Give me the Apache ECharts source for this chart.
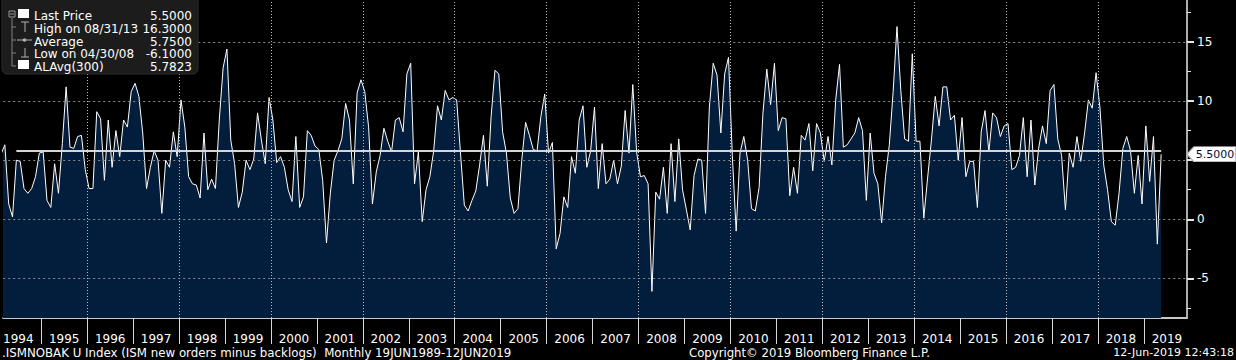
<!DOCTYPE html>
<html><head><meta charset="utf-8">
<script src="https://cdn.jsdelivr.net/npm/echarts@6/dist/echarts.min.js"></script>
<style>html,body{margin:0;padding:0;background:#000;}#c{width:1236px;height:360px;}</style>
</head><body><div id="c"></div>
<script>
// ---- data (monthly, first value = Feb 1994, last = May 2019) ----
const FIRST_YEAR = 1994;
const FIRST_MONTH = 2; // February
const v1994 = [5.5, 6.3, 1.3, 0.2, 5.0, 4.9, 2.6, 2.2, 2.6, 3.6, 5.6];
const v1995 = [5.7, 1.6, 1.0, 4.7, 2.2, 6.4, 11.2, 6.1, 6.0, 7.0, 7.1, 4.2];
const v1996 = [2.6, 2.6, 9.1, 8.5, 3.3, 8.4, 4.4, 7.5, 5.3, 8.4, 7.8, 10.8];
const v1997 = [11.5, 10.4, 7.3, 2.6, 4.4, 5.8, 5.0, 0.5, 5.0, 4.4, 7.4, 5.3];
const v1998 = [10.1, 7.8, 3.6, 3.0, 2.9, 1.8, 7.3, 2.5, 3.4, 2.6, 8.4, 12.8];
const v1999 = [14.4, 6.7, 4.7, 1.0, 2.3, 5.0, 4.2, 5.1, 9.0, 6.7, 4.7, 10.3];
const v2000 = [8.4, 4.8, 5.3, 4.4, 2.5, 1.5, 7.0, 1.0, 1.9, 7.5, 7.1, 6.2];
const v2001 = [5.9, 3.3, -2.0, 2.2, 5.0, 5.8, 6.8, 9.8, 8.4, 3.0, 10.7, 11.8];
const v2002 = [10.8, 7.8, 1.3, 4.0, 5.4, 7.7, 6.6, 5.7, 8.4, 8.6, 7.4, 12.3];
const v2003 = [13.2, 3.0, 5.7, -0.2, 2.5, 3.6, 5.8, 9.6, 8.4, 10.9, 10.1, 10.3];
const v2004 = [10.1, 5.6, 1.2, 0.7, 1.6, 2.4, 4.6, 7.1, 2.8, 8.7, 12.6, 12.3];
const v2005 = [7.4, 5.6, 1.8, 0.5, 0.9, 5.0, 8.2, 7.1, 5.9, 5.8, 8.7, 10.6];
const v2006 = [5.6, 6.5, -2.5, -1.2, 1.9, 1.0, 5.3, 3.9, 8.4, 9.6, 4.4, 5.8];
const v2007 = [9.5, 2.6, 6.4, 3.0, 3.4, 5.0, 3.0, 4.5, 9.2, 5.6, 11.4, 5.7];
const v2008 = [3.6, 3.7, 3.0, -6.1, 2.3, 1.7, 4.4, 0.5, 6.4, 1.5, 6.8, 2.5];
const v2009 = [0.8, -0.9, 3.7, 5.1, 5.0, 0.5, 9.5, 13.2, 12.2, 7.3, 12.3, 13.7];
const v2010 = [5.4, -1.0, 5.6, 7.0, 5.0, 0.9, 0.7, 2.7, 9.0, 12.7, 9.7, 13.2];
const v2011 = [7.5, 8.6, 8.5, 2.0, 4.4, 2.2, 7.1, 6.7, 8.1, 4.1, 8.1, 7.3];
const v2012 = [4.9, 7.0, 4.6, 10.1, 13.1, 6.1, 6.3, 6.8, 7.3, 8.6, 7.5, 1.6];
const v2013 = [7.3, 3.9, 3.0, -0.3, 3.6, 6.3, 10.8, 16.3, 10.9, 6.8, 6.6, 14.0];
const v2014 = [6.6, 6.6, 0.1, 3.5, 6.7, 10.4, 7.9, 11.2, 11.2, 8.4, 8.8, 5.0];
const v2015 = [8.6, 3.6, 4.9, 4.9, 1.0, 7.4, 9.2, 5.7, 9.0, 8.6, 7.0, 7.9];
const v2016 = [8.1, 4.2, 4.4, 5.4, 8.6, 3.6, 8.4, 2.9, 6.0, 7.9, 6.4, 10.9];
const v2017 = [11.4, 6.8, 5.4, 0.8, 5.6, 4.4, 7.0, 4.9, 7.3, 10.1, 9.4, 12.4];
const v2018 = [9.5, 4.6, 2.5, -0.2, -0.5, 2.2, 6.0, 7.0, 5.8, 2.2, 5.4, 1.3];
const v2019 = [7.9, 3.2, 7.0, -2.1, 5.5];

const yearTicks = [1995,1996,1997,1998,1999,2000,2001,2002,2003,2004,2005,2006,2007,2008,2009,2010,2011,2012,2013,2014,2015,2016,2017,2018,2019];
const yearLabels = [1994,1995,1996,1997,1998,1999,2000,2001,2002,2003,2004,2005,2006,2007,2008,2009,2010,2011,2012,2013,2014,2015,2016,2017,2018,2019];
const yearGrid = [1996,1998,2000,2002,2004,2006,2008,2010,2012,2014,2016,2018];
const yMajor = [-5, 0, 5, 10, 15];
const yLabelValues = [-5, 0, 10, 15]; // "5" sits under the last-price tag
const yMinor = [-7.5, -2.5, 2.5, 7.5, 12.5, 17.5];

const LAST_PRICE = 5.5, HIGH = 16.3, AVERAGE = 5.75, LOW = -6.1, ALAVG = 5.7823, ALAVG_N = 300;
const legendRows = [
  ['Last Price', '5.5000'],
  ['High on 08/31/13', '16.3000'],
  ['Average', '5.7500'],
  ['Low on 04/30/08', '-6.1000'],
  ['ALAvg(300)', '5.7823']
];
const footerLeft = '.ISMNOBAK U Index (ISM new orders minus backlogs)  Monthly 19JUN1989-12JUN2019';
const footerMid = 'Copyright\u00a9 2019 Bloomberg Finance L.P.';
const footerRight = '12-Jun-2019 12:43:18';

// ---- build ----
const values = [].concat(v1994,v1995,v1996,v1997,v1998,v1999,v2000,v2001,v2002,v2003,v2004,v2005,v2006,v2007,v2008,v2009,v2010,v2011,v2012,v2013,v2014,v2015,v2016,v2017,v2018,v2019);
const points = values.map((v, i) => [FIRST_YEAR + (FIRST_MONTH - 1 + i + 0.5) / 12, v]);
const lastPt = points[points.length - 1];
const avgStart = points[points.length - ALAVG_N];

const FONT = 'DejaVu Sans';
const X_MIN = 1994.1723, X_MAX = 2019.9375;
const Y_MIN = -8.35, Y_MAX = 18.55;

const chart = echarts.init(document.getElementById('c'), null, {renderer: 'svg'});

function txt(x, y, s, align, size, color) {
  return {type: 'text', z: 110, style: {x: x, y: y, text: s, fill: color || '#ffffff',
    font: size + 'px "' + FONT + '"', align: align, verticalAlign: 'middle',
    textAlign: align, textVerticalAlign: 'middle'}};
}

const legendGraphic = {
  type: 'group', z: 100,
  children: [
    {type: 'rect', z: 100, shape: {x: 2, y: -6, width: 196, height: 80, r: 5}, style: {fill: '#1c1c1c', stroke: '#2c2c2c'}},
    {type: 'rect', z: 105, shape: {x: 9, y: 11, width: 6, height: 6}, style: {fill: 'none', stroke: '#9a9a9a', lineWidth: 1}},
    {type: 'line', z: 105, shape: {x1: 10, y1: 14, x2: 14, y2: 14}, style: {stroke: '#9a9a9a', lineWidth: 1}},
    {type: 'line', z: 105, shape: {x1: 12, y1: 18, x2: 12, y2: 66}, style: {stroke: '#808080', lineWidth: 1}},
    {type: 'line', z: 105, shape: {x1: 12, y1: 27, x2: 16, y2: 27}, style: {stroke: '#808080', lineWidth: 1}},
    {type: 'line', z: 105, shape: {x1: 12, y1: 40, x2: 16, y2: 40}, style: {stroke: '#808080', lineWidth: 1}},
    {type: 'line', z: 105, shape: {x1: 12, y1: 53, x2: 16, y2: 53}, style: {stroke: '#808080', lineWidth: 1}},
    {type: 'line', z: 105, shape: {x1: 12, y1: 66, x2: 16, y2: 66}, style: {stroke: '#808080', lineWidth: 1}},
    {type: 'rect', z: 105, shape: {x: 18, y: 9, width: 11, height: 9}, style: {fill: '#ffffff'}},
    {type: 'rect', z: 105, shape: {x: 18, y: 60, width: 11, height: 9}, style: {fill: '#ffffff'}},
    {type: 'line', z: 105, shape: {x1: 21, y1: 22, x2: 29, y2: 22}, style: {stroke: '#b0b0b0', lineWidth: 1}},
    {type: 'line', z: 105, shape: {x1: 25, y1: 22, x2: 25, y2: 32}, style: {stroke: '#b0b0b0', lineWidth: 1}},
    {type: 'line', z: 105, shape: {x1: 17, y1: 40, x2: 32, y2: 40}, style: {stroke: '#b0b0b0', lineWidth: 1}},
    {type: 'circle', z: 105, shape: {cx: 24.5, cy: 40, r: 1.8}, style: {fill: '#b0b0b0'}},
    {type: 'line', z: 105, shape: {x1: 25, y1: 48, x2: 25, y2: 57}, style: {stroke: '#b0b0b0', lineWidth: 1}},
    {type: 'line', z: 105, shape: {x1: 21, y1: 57, x2: 29, y2: 57}, style: {stroke: '#b0b0b0', lineWidth: 1}}
  ].concat(legendRows.flatMap((r, i) => [
    txt(34, 16 + i * 12.8, r[0], 'left', 12),
    txt(192, 16 + i * 12.8, r[1], 'right', 12)
  ]))
};

const footer = [
  {type: 'text', left: 2, top: 347, style: {text: footerLeft, fill: '#ffffff', font: '11.8px "' + FONT + '"'}, z: 100},
  {type: 'text', left: 689, top: 347, style: {text: footerMid, fill: '#ffffff', font: '11.7px "' + FONT + '"'}, z: 100},
  {type: 'text', right: 2, top: 347, style: {text: footerRight, fill: '#ffffff', font: '11px "' + FONT + '"'}, z: 100}
];

const noSym = ['none', 'none'];
chart.setOption({
  backgroundColor: '#000000',
  animation: false,
  grid: {left: 0, right: 49, top: 0, bottom: 42, containLabel: false},
  xAxis: [{
    type: 'value', min: X_MIN, max: X_MAX,
    axisLine: {show: true, onZero: false, lineStyle: {color: '#c8c8c8', width: 2}},
    axisTick: {show: true, customValues: yearTicks, length: 26, lineStyle: {color: '#d8d8d8', width: 1}},
    axisLabel: {show: true, customValues: yearLabels.map(y => y + 0.5), formatter: v => String(Math.floor(v)),
      color: '#ffffff', fontSize: 12, fontFamily: FONT, margin: 15},
    splitLine: {show: false}
  }],
  yAxis: [{
    type: 'value', position: 'right', min: Y_MIN, max: Y_MAX,
    axisLine: {show: true, lineStyle: {color: '#e6e6e6', width: 1.5}},
    axisTick: {show: true, customValues: yMinor, length: 4, lineStyle: {color: '#e6e6e6', width: 1}},
    axisLabel: {show: false}, splitLine: {show: false}
  }, {
    type: 'value', position: 'right', min: Y_MIN, max: Y_MAX,
    axisLine: {show: false},
    axisTick: {show: true, customValues: yMajor, length: 7, lineStyle: {color: '#e6e6e6', width: 2}},
    axisLabel: {show: true, customValues: yLabelValues, color: '#ffffff', fontSize: 12, fontFamily: FONT, margin: 10},
    splitLine: {show: false}
  }],
  series: [{
    type: 'line', data: points, showSymbol: false, z: 1, clip: true,
    lineStyle: {width: 0, opacity: 0},
    areaStyle: {color: '#031d3d', opacity: 1, origin: 'start'}
  }, {
    type: 'line', data: points, showSymbol: false, z: 2, clip: true,
    lineStyle: {width: 0, opacity: 0},
    markLine: {
      silent: true, symbol: noSym, label: {show: false}, animation: false,
      lineStyle: {opacity: 1, width: 1},
      data: yearGrid.map(x => ({xAxis: x, lineStyle: {type: [1, 2], color: '#c0c0c0', width: 1, opacity: 1}}))
        .concat(yMajor.map(y => ({yAxis: y, lineStyle: {type: [2, 3], color: '#8a8a8a', width: 1, opacity: 1}})))
    }
  }, {
    type: 'line', data: points, showSymbol: false, z: 3, clip: true,
    lineStyle: {color: '#ffffff', width: 1},
    markLine: {
      silent: true, symbol: noSym, label: {show: false}, animation: false,
      data: [[{coord: [avgStart[0], ALAVG]}, {coord: [lastPt[0], ALAVG]}]],
      lineStyle: {type: 'solid', color: '#d6d6d6', width: 2, opacity: 1}
    },
    markPoint: {
      silent: true, animation: false,
      symbol: 'path://M0,7.5 L7,0 L49,0 L49,15 L7,15 Z',
      symbolKeepAspect: false,
      symbolSize: [49, 15],
      symbolOffset: [24.5, 0],
      itemStyle: {color: '#ffffff', borderColor: '#bdbdbd', borderWidth: 1, opacity: 1},
      label: {show: true, position: 'inside', offset: [3.5, 0.5], color: '#0a0a3a', fontSize: 11, fontFamily: FONT,
        formatter: () => LAST_PRICE.toFixed(4)},
      data: [{coord: [X_MAX, LAST_PRICE], value: LAST_PRICE}]
    }
  }],
  graphic: [legendGraphic].concat(footer)
});
</script>
</body></html>
